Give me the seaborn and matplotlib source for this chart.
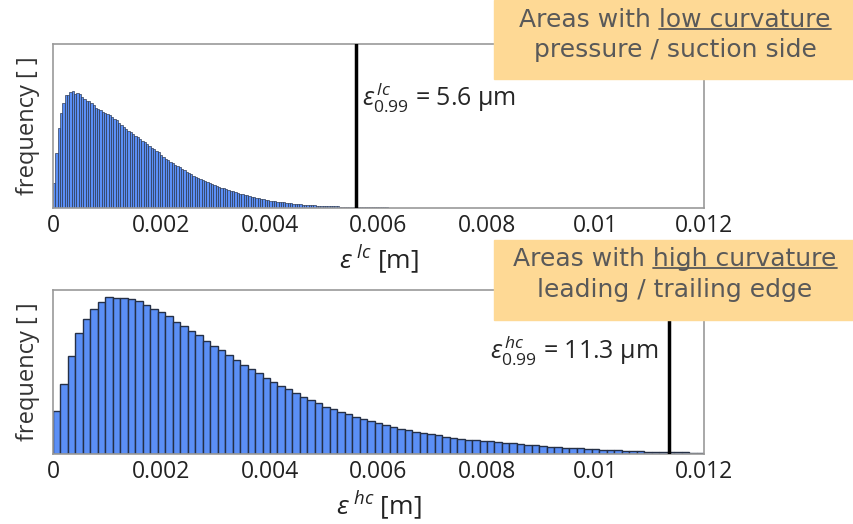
import numpy as np
import pandas as pd
import matplotlib
matplotlib.use("Agg")
import matplotlib.pyplot as plt
from matplotlib.patches import Rectangle
import seaborn as sns

# bar heights (arbitrary frequency units)
lc_freq = [25, 55, 80, 95, 105, 113, 113, 116, 117, 114,
           115, 114, 111, 109, 107, 107, 105, 103, 100, 99,
           98, 96, 95, 94, 93, 91, 89, 88, 85, 83,
           81, 79, 77, 76, 74, 72, 71, 69, 67, 66,
           64, 62, 60, 59, 57, 56, 53, 51, 49, 48,
           46, 45, 43, 42, 41, 39, 38, 36, 35, 34,
           32, 31, 30, 29, 28, 27, 26, 25, 24, 23,
           22, 21, 20.5, 20, 19, 18, 17.5, 17, 16, 15.5,
           14.5, 14, 13, 12.7, 12, 11.5, 11, 10.5, 10, 9.5,
           9, 8.5, 8, 7.5, 7, 6.8, 6.5, 6.2, 5.9, 5.6,
           5.2, 4.9, 4.7, 4.4, 4.1, 3.9, 3.7, 3.5, 3.3, 3.1,
           3.0, 2.8, 2.7, 2.5, 2.4, 2.3, 2.2, 2.1, 2.0, 1.9,
           1.8, 1.7, 1.6, 1.5, 1.5, 1.4, 1.3, 1.3, 1.2, 1.2,
           1.1, 1.0, 1.0, 0.9, 0.9, 0.8, 0.8, 0.8, 0.7, 0.7,
           0.7, 0.6, 0.6, 0.6, 0.5, 0.5, 0.5, 0.5, 0.4, 0.4,
           0.4, 0.4, 0.4, 0.3, 0.3, 0.3, 0.3, 0.3, 0.3, 0.3,
           0.3, 0.3, 0.3, 0.3, 0.3, 0.2, 0.2, 0.2, 0.2, 0.2,
           0.2, 0.2, 0.2, 0.2, 0.2, 0.2, 0.2, 0.2, 0.2, 0.2]
hc_freq = [42.7, 70, 97.7, 121, 135, 145.3, 152, 156.7, 156, 156,
           155.3, 153.3, 149.3, 145.3, 141.7, 137.7, 132.3, 127.7, 123.3, 119,
           113.3, 108.3, 104, 99, 94, 89.3, 84.7, 81, 75.7, 71.7,
           68.3, 65, 60.7, 57.3, 54, 50.7, 47.3, 44.7, 42.3, 39.7,
           37, 34.7, 32.7, 30.7, 28.7, 26.7, 25, 24, 22, 21,
           20, 18.7, 17.3, 16.3, 15.3, 14.3, 13.7, 13, 12.7, 11.7,
           11.3, 10.7, 10, 9.5, 9, 8, 7.3, 6.7, 6.3, 6,
           5.7, 5.3, 4.7, 4.3, 4, 3.7, 3.3, 3, 2.7, 2.3,
           2.3, 2, 2, 1.7, 1.7, 1.3, 1.3]
lc_binw = 0.012 / 280
hc_binw = 0.012 / 87
lc_q99 = 0.00559
hc_q99 = 0.01135
xticks = [0, 0.002, 0.004, 0.006, 0.008, 0.01, 0.012]
xticklabels = ["0", "0.002", "0.004", "0.006", "0.008", "0.01", "0.012"]

sns.set_style("white")
plt.rcParams["font.family"] = ["Open Sans", "DejaVu Sans"]
plt.rcParams["mathtext.fontset"] = "custom"
plt.rcParams["mathtext.rm"] = "Open Sans"
plt.rcParams["mathtext.it"] = "Open Sans:italic"

bar_color = "#5b8ff6"
edge_color = "#253047"

fig = plt.figure(figsize=(8.54, 5.24), dpi=100)
ax1 = fig.add_axes([53 / 854, 1 - 208 / 524, 651 / 854, 164 / 524])
ax2 = fig.add_axes([53 / 854, 1 - 454 / 524, 651 / 854, 164 / 524])


def draw_hist(ax, freq, binw, lw):
    n = len(freq)
    df = pd.DataFrame({"eps": (np.arange(n) + 0.5) * binw, "freq": freq})
    sns.histplot(data=df, x="eps", weights="freq", binwidth=binw, binrange=(0, n * binw),
                 ax=ax, color=bar_color, edgecolor=edge_color, linewidth=lw, alpha=1)
    ax.set_xlim(0, 0.012)
    ax.set_ylim(0, 164)
    ax.set_xticks(xticks)
    ax.set_xticklabels(xticklabels, fontsize=16.5, color="#222222")
    ax.set_yticks([])
    ax.tick_params(axis="x", direction="in", length=5, color="#999999", pad=4)
    for s in ax.spines.values():
        s.set_color("#999999")
        s.set_linewidth(1.2)
    ax.set_ylabel("frequency [ ]", fontsize=17, color="#333333", labelpad=9)


draw_hist(ax1, lc_freq, lc_binw, 0.45)
draw_hist(ax2, hc_freq, hc_binw, 1.0)

ax1.axvline(lc_q99, color="black", lw=2.5, zorder=5)
ax2.axvline(hc_q99, color="black", lw=2.5, zorder=5)

ax1.text(lc_q99 + 0.0001, 0.67, r"$\varepsilon^{\,lc}_{0.99}$ = 5.6 µm",
         transform=ax1.get_xaxis_transform(), fontsize=18, va="center", ha="left")
ax2.text(hc_q99 - 0.0002, 0.63, r"$\varepsilon^{\,hc}_{0.99}$ = 11.3 µm",
         transform=ax2.get_xaxis_transform(), fontsize=18, va="center", ha="right")

ax1.set_xlabel(r"$\varepsilon^{\;lc}$ [m]", fontsize=19, color="#222222", labelpad=4)
ax2.set_xlabel(r"$\varepsilon^{\;hc}$ [m]", fontsize=19, color="#222222", labelpad=4)

# orange note boxes
box_color = "#fed995"
fig.patches.append(Rectangle((494 / 854, 1 - 79 / 524), 360 / 854, 79 / 524,
                             transform=fig.transFigure, color=box_color, zorder=10))
fig.patches.append(Rectangle((494 / 854, 1 - 320 / 524), 360 / 854, 80 / 524,
                             transform=fig.transFigure, color=box_color, zorder=10))

renderer = fig.canvas.get_renderer()
notes = [("Areas with low curvature", "low curvature", 20, "pressure / suction side", 50),
         ("Areas with high curvature", "high curvature", 259, "leading / trailing edge", 290)]
for line1, under, y1, line2, y2 in notes:
    t1 = fig.text(675 / 854, 1 - y1 / 524, line1, ha="center", va="center",
                  fontsize=18, color="#595959", family="DejaVu Sans", zorder=11)
    fig.text(675 / 854, 1 - y2 / 524, line2, ha="center", va="center",
             fontsize=18, color="#595959", family="DejaVu Sans", zorder=11)
    bb = t1.get_window_extent(renderer)
    tmp = fig.text(0, 0, under, fontsize=18, family="DejaVu Sans")
    w = tmp.get_window_extent(renderer).width
    tmp.remove()
    y_ul = (bb.y0 + 3) / fig.bbox.height
    fig.add_artist(plt.Line2D([(bb.x1 - w) / fig.bbox.width, bb.x1 / fig.bbox.width],
                              [y_ul, y_ul], transform=fig.transFigure,
                              color="#595959", lw=1.3, zorder=11))

fig.savefig("out.png", dpi=100)
